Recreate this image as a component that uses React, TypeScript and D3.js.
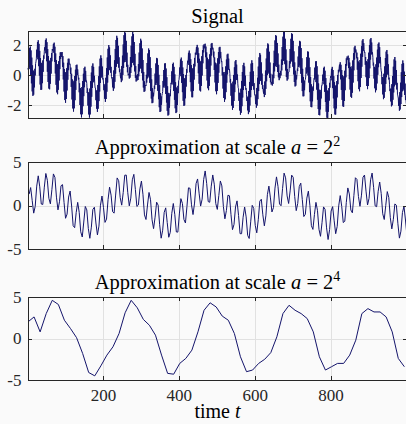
import React, { useEffect, useRef } from "react";
import * as d3 from "d3";

// signal samples, t = 1 .. 1000
const signal = [
	.47, .35, 1.29, .51, 1.80, .40, 1.91, .01, 1.65,
	-.55, 1.17, -1.09, .65, -1.39, .30, -1.31, .23, -.82, .42,
	-.02, .77, .89, 1.09, 1.70, 1.22, 2.21, 1.06, 2.33, .60,
	2.09, -.03, 1.62, -.63, 1.14, -.99, .82, -.97, .77, -.54,
	.98, .22, 1.31, 1.09, 1.60, 1.86, 1.69, 2.34, 1.46, 2.45,
	.93, 2.20, .22, 1.74, -.46, 1.27, -.90, .97, -.95, .94,
	-.58, 1.15, .10, 1.47, .92, 1.74, 1.64, 1.78, 2.09, 1.50,
	2.17, .89, 1.90, .11, 1.45, -.65, 1.00, -1.16, .73, -1.28,
	.71, -.98, .93, -.36, 1.27, .40, 1.52, 1.08, 1.54, 1.49,
	1.21, 1.54, .55, 1.27, -.29, .83, -1.10, .41, -1.67, .17,
	-1.85, .20, -1.60, .46, -1.03, .82, -.31, 1.09, .33, 1.10,
	.71, .76, .75, .08, .50, -.79, .09, -1.63, -.29, -2.23,
	-.48, -2.44, -.38, -2.22, -.06, -1.68, .36, -.99, .67, -.37,
	.70, .00, .38, .05, -.29, -.18, -1.15, -.55, -2.00, -.87,
	-2.62, -.98, -2.83, -.80, -2.62, -.40, -2.08, .09, -1.41, .47,
	-.81, .56, -.44, .28, -.37, -.36, -.57, -1.20, -.89, -2.04,
	-1.15, -2.63, -1.17, -2.84, -.90, -2.63, -.41, -2.11, .17, -1.45,
	.62, -.85, .78, -.48, .55, -.41, -.05, -.59, -.87, -.87,
	-1.68, -1.05, -2.25, -1.00, -2.46, -.66, -2.25, -.08, -1.74, .58,
	-1.10, 1.10, -.52, 1.32, -.17, 1.13, -.11, .57, -.28, -.22,
	-.54, -1.01, -.69, -1.58, -.59, -1.79, -.18, -1.60, .46, -1.11,
	1.18, -.50, 1.76, .03, 2.01, .33, 1.85, .35, 1.32, .16,
	.55, -.11, -.24, -.25, -.82, -.13, -1.05, .31, -.89, .99,
	-.45, 1.75, .10, 2.35, .56, 2.63, .79, 2.49, .75, 1.96,
	.50, 1.19, .20, .39, .03, -.21, .15, -.47, .60, -.36,
	1.30, .01, 2.05, .48, 2.67, .86, 2.95, 1.01, 2.82, .88,
	2.29, .56, 1.50, .19, .69, -.01, .07, .09, -.23, .52,
	-.17, 1.21, .14, 1.97, .53, 2.59, .82, 2.88, .87, 2.74,
	.66, 2.21, .25, 1.42, -.18, .60, -.43, -.03, -.36, -.35,
	.06, -.33, .74, -.08, 1.51, .25, 2.13, .46, 2.43, .43,
	2.30, .13, 1.78, -.35, 1.01, -.83, .21, -1.12, -.42, -1.08,
	-.74, -.67, -.73, .02, -.50, .81, -.22, 1.45, -.07, 1.78,
	-.16, 1.68, -.52, 1.20, -1.05, .47, -1.57, -.29, -1.88, -.88,
	-1.85, -1.17, -1.42, -1.15, -.71, -.92, .10, -.65, .78, -.52,
	1.15, -.66, 1.11, -1.05, .68, -1.61, .02, -2.15, -.67, -2.47,
	-1.20, -2.42, -1.43, -1.98, -1.36, -1.24, -1.10, -.39, -.82, .34,
	-.70, .77, -.84, .79, -1.26, .44, -1.83, -.14, -2.39, -.75,
	-2.71, -1.19, -2.65, -1.34, -2.18, -1.22, -1.41, -.91, -.52, -.61,
	.25, -.48, .74, -.63, .83, -1.06, .55, -1.65, .05, -2.22,
	-.48, -2.54, -.83, -2.48, -.91, -2.00, -.72, -1.21, -.37, -.30,
	-.05, .51, .09, 1.04, -.07, 1.17, -.52, .95, -1.14, .51,
	-1.72, .06, -2.06, -.22, -2.02, -.23, -1.55, .01, -.77, .40,
	.15, .74, .96, .87, 1.49, .68, 1.64, .19, 1.45, -.47,
	1.06, -1.09, .66, -1.48, .43, -1.48, .46, -1.05, .75, -.30,
	1.15, .58, 1.49, 1.37, 1.59, 1.87, 1.37, 2.02, .83, 1.84,
	.12, 1.46, -.58, 1.09, -1.03, .89, -1.09, .95, -.72, 1.26,
	-.03, 1.66, .79, 1.99, 1.52, 2.06, 1.99, 1.79, 2.10, 1.20,
	1.91, .41, 1.52, -.36, 1.16, -.88, .98, -1.01, 1.07, -.72,
	1.39, -.10, 1.79, .64, 2.10, 1.31, 2.15, 1.72, 1.84, 1.80,
	1.19, 1.57, .34, 1.18, -.49, .83, -1.08, .67, -1.28, .78,
	-1.06, 1.12, -.52, 1.54, .16, 1.85, .77, 1.89, 1.13, 1.55,
	1.16, .87, .91, -.02, .52, -.90, .19, -1.53, .06, -1.79,
	.21, -1.62, .58, -1.14, 1.04, -.51, 1.38, .05, 1.43, .36,
	1.10, .37, .41, .11, -.49, -.26, -1.38, -.56, -2.04, -.64,
	-2.32, -.44, -2.19, .01, -1.73, .52, -1.14, .92, -.61, 1.01,
	-.33, .70, -.33, .04, -.58, -.84, -.92, -1.72, -1.18, -2.37,
	-1.20, -2.65, -.91, -2.52, -.39, -2.08, .21, -1.50, .67, -1.00,
	.82, -.73, .58, -.73, -.04, -.97, -.88, -1.28, -1.73, -1.49,
	-2.36, -1.43, -2.61, -1.06, -2.48, -.46, -2.04, .22, -1.48, .77,
	-1.00, .99, -.73, .81, -.74, .25, -.97, -.54, -1.26, -1.35,
	-1.42, -1.94, -1.30, -2.18, -.86, -2.04, -.18, -1.61, .57, -1.07,
	1.19, -.60, 1.48, -.37, 1.36, -.40, .85, -.64, .10, -.93,
	-.67, -1.06, -1.24, -.91, -1.47, -.43, -1.33, .30, -.92, 1.11,
	-.41, 1.78, .00, 2.12, .19, 2.04, .10, 1.56, -.18, .84,
	-.48, .09, -.63, -.47, -.47, -.70, .03, -.59, .79, -.21,
	1.63, .25, 2.32, .59, 2.68, .70, 2.61, .54, 2.15, .21,
	1.45, -.15, .70, -.34, .14, -.21, -.11, .28, -.02, 1.04,
	.31, 1.88, .69, 2.57, .95, 2.94, .97, 2.88, .73, 2.43,
	.31, 1.72, -.13, .98, -.37, .41, -.28, .14, .19, .20,
	.93, .47, 1.75, .78, 2.43, .96, 2.80, .89, 2.74, .56,
	2.29, .05, 1.59, -.46, .85, -.76, .29, -.71, .01, -.29,
	.05, .43, .28, 1.24, .54, 1.93, .65, 2.29, .51, 2.24,
	.09, 1.81, -.50, 1.13, -1.07, .42, -1.42, -.12, -1.41, -.38,
	-1.01, -.35, -.30, -.13, .51, .11, 1.20, .18, 1.58, -.02,
	1.56, -.50, 1.16, -1.14, .53, -1.75, -.13, -2.13, -.62, -2.15,
	-.84, -1.75, -.76, -1.04, -.52, -.22, -.29, .50, -.23, .91,
	-.47, .93, -.97, .59, -1.64, .03, -2.27, -.56, -2.67, -.98,
	-2.69, -1.12, -2.29, -.99, -1.56, -.70, -.71, -.44, .03, -.38,
	.48, -.61, .56, -1.12, .29, -1.80, -.20, -2.45, -.69, -2.85,
	-1.03, -2.87, -1.07, -2.45, -.87, -1.71, -.52, -.84, -.22, -.07,
	-.14, .42, -.35, .55, -.87, .34, -1.56, -.07, -2.22, -.48,
	-2.63, -.72, -2.64, -.68, -2.23, -.40, -1.49, .01, -.61, .35,
	.18, .46, .70, .25, .86, -.28, .69, -.99, .34, -1.66,
	.00, -2.09, -.16, -2.12, -.06, -1.73, .29, -1.01, .74, -.15,
	1.12, .63, 1.24, 1.14, 1.02, 1.30, .47, 1.15, -.27, .84,
	-.97, .55, -1.45, .43, -1.52, .59, -1.18, .98, -.50, 1.46,
	.32, 1.85, 1.04, 1.96, 1.52, 1.72, 1.65, 1.13, 1.50, .36,
	1.19, -.41, .91, -.94, .83, -1.08, 1.01, -.80, 1.43, -.19,
	1.93, .56, 2.31, 1.22, 2.41, 1.63, 2.14, 1.72, 1.51, 1.54,
	.69, 1.21, -.14, .93, -.73, .86, -.94, 1.06, -.73, 1.50,
	-.20, 2.01, .45, 2.39, 1.04, 2.48, 1.38, 2.18, 1.41, 1.52,
	1.19, .64, .83, -.23, .55, -.88, .49, -1.15, .72, -1.01,
	1.17, -.56, 1.70, .02, 2.09, .53, 2.18, .81, 1.87, .78,
	1.20, .51, .29, .14, -.61, -.13, -1.29, -.17, -1.61, .09,
	-1.52, .58, -1.12, 1.14, -.59, 1.57, -.14, 1.68, .08, 1.39,
	.01, .72, -.29, -.17, -.65, -1.07, -.91, -1.76, -.92, -2.09,
	-.61, -2.02, -.06, -1.65, .56, -1.16, 1.05, -.75, 1.21, -.57,
	.96, -.67, .34, -.96, -.52, -1.32, -1.39, -1.55, -2.06, -1.51,
	-2.38, -1.14, -2.30, -.51, -1.94, .19, -1.47, .75, -1.08, .98,
	-.93, .79, -1.03, .23, -1.33, -.57, -1.67, -1.39, -1.86, -2.02,
	-1.77,
];

// approximation at scale 2^2, one value per 4 samples
const approx2 = [
	1.31, 2.06, .59, -.88, -.10, 2.23, 3.41, 2.14, .17, .12,
	2.11, 3.68, 2.90, .83, .19, 1.82, 3.63, 3.23, .96, -.50,
	.43, 2.27, 2.40, .36, -1.47, -.99, .97, 1.66, -.06, -2.32,
	-2.55, -.82, .36, -.79, -3.02, -3.62, -1.90, -.11, -.51, -2.64,
	-3.77, -2.49, -.45, -.20, -2.01, -3.38, -2.37, .03, 1.09, -.24,
	-1.94, -1.56, .67, 2.11, 1.19, -.71, -.88, 1.20, 3.17, 2.85,
	.91, .04, 1.50, 3.48, 3.50, 1.47, -.04, .85, 2.96, 3.58,
	1.85, -.11, .06, 1.91, 2.81, 1.29, -1.08, -1.61, .06, 1.50,
	.66, -1.64, -2.66, -1.34, .38, .04, -2.21, -3.76, -2.84, -.79,
	-.27, -1.96, -3.65, -3.08, -.90, .23, -1.06, -3.04, -3.06, -.97,
	.79, .23, -1.61, -2.01, -.11, 2.03, 1.98, .08, -1.04, .28,
	2.52, 3.05, 1.42, -.07, .73, 2.98, 3.97, 2.52, .45, .37,
	2.22, 3.51, 2.45, .22, -.45, 1.15, 2.82, 2.25, -.11, -1.53,
	-.57, 1.18, 1.12, -1.01, -2.78, -2.18, -.16, .53, -1.15, -3.24,
	-3.24, -1.35, -.17, -1.31, -3.43, -3.79, -1.88, .02, -.33, -2.29,
	-3.14, -1.63, .50, .72, -1.07, -2.34, -1.19, 1.24, 2.23, .87,
	-.74, -.24, 2.00, 3.29, 2.18, .18, -.03, 1.96, 3.72, 3.18,
	1.10, .23, 1.68, 3.49, 3.24, 1.02, -.59, .24, 2.18, 2.57,
	.69, -1.27, -1.02, .85, 1.65, .03, -2.32, -2.75, -1.04, .36,
	-.55, -2.74, -3.54, -1.98, -.16, -.44, -2.57, -3.91, -2.78, -.64,
	-.13, -1.76, -3.24, -2.40, -.04, 1.14, -.12, -1.96, -1.81, .35,
	2.02, 1.33, -.52, -.84, 1.13, 3.19, 3.00, 1.03, -.09, 1.19,
	3.25, 3.50, 1.65, .06, .82, 2.95, 3.73, 2.09, -.04, -.14,
	1.63, 2.70, 1.39, -.95, -1.61, .01, 1.60, .92, -1.40, -2.69,
	-1.59, .18, .03, -2.10, -3.75, -2.95, -.81, -.10, -1.67, -3.52,
];

// approximation at scale 2^4, one value per 16 samples
const approx4 = [
	2.0, 2.6, 0.8, 3.0, 4.6, 4.1, 2.2, 1.2, 0.1, -1.8,
	-4.1, -4.5, -3.3, -2.0, -1.0, 0.6, 3.1, 4.6, 3.7, 2.3,
	1.6, 0.4, -2.0, -4.2, -4.3, -3.0, -2.4, -1.4, 0.8, 3.4,
	4.3, 3.8, 2.7, 2.2, 0.6, -2.2, -4.0, -3.8, -3.0, -2.5,
	-1.7, 0.2, 3.0, 4.0, 3.4, 3.0, 2.4, 0.8, -2.2, -3.8,
	-3.4, -3.0, -3.0, -2.0, -0.2, 3.0, 3.6, 3.2, 3.2, 2.6,
	0.8, -2.4, -3.4,
];

const xTicks = [200, 400, 600, 800];
const signalTicks = [-2, 0, 2];
const approxTicks = [-5, 0, 5];

const WIDTH = 406;
const HEIGHT = 424;
const SERIF = '"Liberation Serif", "Times New Roman", serif';
const LINE = "#14146b";
const AXIS = "#262626";
const GRID = "#e1e1e1";
const BG = "#fafafa";

const px = (v: number) => Math.round(v) + 0.5;

export default function App() {
	const svgRef = useRef<SVGSVGElement>(null);

	useEffect(() => {
		const svg = d3.select(svgRef.current);
		svg.selectAll("*").remove();

		const x = d3.scaleLinear().domain([1, 1000]).range([28, 407]);
		const left = 28;
		const right = 407;

		const panels = [
			{
				points: signal.map((v, i) => [i + 1, v]),
				domain: d3.extent(signal) as [number, number],
				range: [118, 31],
				ticks: signalTicks,
				exponent: null as number | null,
				titleY: 23,
			},
			{
				points: approx2.map((v, i) => [4 * (i + 1), v]),
				domain: [-5, 5],
				range: [249, 162],
				ticks: approxTicks,
				exponent: 2,
				titleY: 153.5,
			},
			{
				points: approx4.map((v, i) => [16 * i + 1, v]),
				domain: [-5, 5],
				range: [380, 297],
				ticks: approxTicks,
				exponent: 4,
				titleY: 288.5,
			},
		];

		svg.append("rect").attr("width", WIDTH).attr("height", HEIGHT).attr("fill", BG);

		panels.forEach((p, idx) => {
			const y = d3.scaleLinear().domain(p.domain).range(p.range);
			const [bottom, top] = p.range;
			const g = svg.append("g");

			// grid
			g.selectAll(".vgrid")
				.data(xTicks)
				.join("line")
				.attr("x1", (d) => px(x(d)))
				.attr("x2", (d) => px(x(d)))
				.attr("y1", top)
				.attr("y2", bottom)
				.attr("stroke", GRID)
				.attr("shape-rendering", "crispEdges");
			g.selectAll(".hgrid")
				.data(p.ticks)
				.join("line")
				.attr("x1", left)
				.attr("x2", right)
				.attr("y1", (d) => px(y(d)))
				.attr("y2", (d) => px(y(d)))
				.attr("stroke", GRID)
				.attr("shape-rendering", "crispEdges");

			// data line
			const line = d3
				.line<number[]>()
				.x((d) => x(d[0]))
				.y((d) => y(d[1]));
			g.append("path")
				.attr("d", line(p.points))
				.attr("fill", "none")
				.attr("stroke", LINE)
				.attr("stroke-width", 1)
				.attr("stroke-linejoin", "round");

			// box
			const box = g.append("g").attr("stroke", AXIS).attr("shape-rendering", "crispEdges");
			box.append("line").attr("x1", left).attr("x2", right).attr("y1", px(top)).attr("y2", px(top));
			box.append("line").attr("x1", left).attr("x2", right).attr("y1", px(bottom)).attr("y2", px(bottom));
			box.append("line").attr("x1", px(left)).attr("x2", px(left)).attr("y1", top).attr("y2", bottom + 1);
			box.append("line").attr("x1", px(right)).attr("x2", px(right)).attr("y1", top).attr("y2", bottom + 1);

			// inward ticks
			xTicks.forEach((d) => {
				box.append("line").attr("x1", px(x(d))).attr("x2", px(x(d))).attr("y1", bottom).attr("y2", bottom - 4);
				box.append("line").attr("x1", px(x(d))).attr("x2", px(x(d))).attr("y1", top).attr("y2", top + 4);
			});
			p.ticks.forEach((d) => {
				box.append("line").attr("x1", left).attr("x2", left + 4).attr("y1", px(y(d))).attr("y2", px(y(d)));
				box.append("line").attr("x1", right - 4).attr("x2", right).attr("y1", px(y(d))).attr("y2", px(y(d)));
			});

			// y tick labels
			g.selectAll(".ylab")
				.data(p.ticks)
				.join("text")
				.attr("x", 21.5)
				.attr("y", (d) => y(d))
				.attr("dy", "0.34em")
				.attr("text-anchor", "end")
				.attr("font-family", SERIF)
				.attr("font-size", 17)
				.attr("fill", AXIS)
				.text((d) => String(d));

			// title
			const title = g
				.append("text")
				.attr("x", (left + right) / 2)
				.attr("y", p.titleY)
				.attr("text-anchor", "middle")
				.attr("font-family", SERIF)
				.attr("font-size", 20.5)
				.attr("fill", "#000");
			if (p.exponent === null) {
				title.text("Signal");
			} else {
				title.append("tspan").text("Approximation at scale ");
				title.append("tspan").attr("font-style", "italic").text("a");
				title.append("tspan").text(" = 2");
				title.append("tspan").attr("dy", -8).attr("font-size", 14).text(String(p.exponent));
			}

			// x tick labels on the last panel only
			if (idx === panels.length - 1) {
				g.selectAll(".xlab")
					.data(xTicks)
					.join("text")
					.attr("x", (d) => x(d))
					.attr("y", bottom + 20.5)
					.attr("text-anchor", "middle")
					.attr("font-family", SERIF)
					.attr("font-size", 17)
					.attr("fill", AXIS)
					.text((d) => String(d));

				const xlabel = g
					.append("text")
					.attr("x", (left + right) / 2)
					.attr("y", 418)
					.attr("text-anchor", "middle")
					.attr("font-family", SERIF)
					.attr("font-size", 20)
					.attr("fill", "#000");
				xlabel.append("tspan").text("time ");
				xlabel.append("tspan").attr("font-style", "italic").text("t");
			}
		});
	}, []);

	return (
		<svg
			ref={svgRef}
			width={WIDTH}
			height={HEIGHT}
			style={{ position: "absolute", left: 0, top: 0, display: "block" }}
		></svg>
	);
}
